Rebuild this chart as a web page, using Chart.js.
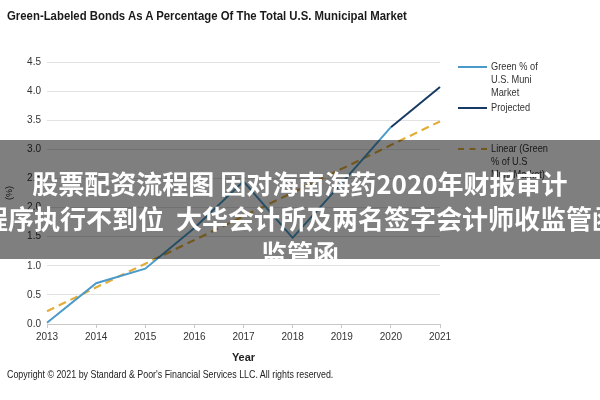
<!DOCTYPE html>
<html>
<head>
<meta charset="utf-8">
<script src="https://cdn.jsdelivr.net/npm/chart.js@4.4.1/dist/chart.umd.min.js"></script>
<style>
  html, body { margin: 0; padding: 0; background: #fff; }
  #wrap { position: relative; width: 600px; height: 400px; overflow: hidden; font-family: 'Liberation Sans', Arial, sans-serif; }
  #c { position: absolute; left: 0; top: 0; }
  #title { position: absolute; left: 7px; top: 8px; font-size: 13px; font-weight: bold; color: #1a1a1a; white-space: nowrap; transform: scaleX(0.875); transform-origin: left top; }
  #copy { position: absolute; left: 7px; top: 368px; font-size: 10.5px; color: #222; white-space: nowrap; transform: scaleX(0.845); transform-origin: left top; }
  .lg { position: absolute; left: 458px; width: 140px; font-size: 11px; line-height: 13px; color: #333; }
  .lg .sw { position: absolute; left: 0; top: 6px; width: 29px; height: 0; }
  .lg .tx { position: absolute; left: 33px; top: 0; width: 100px; transform: scaleX(0.84); transform-origin: left top; }
  #band { position: absolute; left: 0; top: 140px; width: 600px; height: 119px; background: rgba(0,0,0,0.5); overflow: hidden; }
  #band .t { position: absolute; left: -100px; width: 800px; text-align: center; color: #fff; font-family: 'Noto Sans CJK SC', sans-serif; font-weight: bold; font-size: 26px; line-height: 35px; white-space: pre; }
</style>
</head>
<body>
<div id="wrap">
  <canvas id="c" width="600" height="400"></canvas>
  <div id="title">Green-Labeled Bonds As A Percentage Of The Total U.S. Municipal Market</div>
  <div id="legend"></div>
  <div id="copy">Copyright © 2021 by Standard &amp; Poor's Financial Services LLC. All rights reserved.</div>
  <div id="band">
    <div class="t" style="top:25px">股票配资流程图 因对海南海药2020年财报审计</div>
    <div class="t" style="top:60px">程序执行不到位  大华会计所及两名签字会计师收监管函</div>
    <div class="t" style="top:95px">监管函</div>
  </div>
</div>
<script>
// ---- data ----
const years = ['2013','2014','2015','2016','2017','2018','2019','2020','2021'];
const greenShare = [0.02, 0.70, 0.95, 1.65, 2.45, 1.48, 2.42, 3.38, null];
const projected  = [null, null, null, null, null, null, null, 3.38, 4.07];
const linearTrend = [0.22, null, null, null, null, null, null, null, 3.48];
const yTicks = [0, 0.5, 1.0, 1.5, 2.0, 2.5, 3.0, 3.5, 4.0, 4.5];
const seriesNames = ['Green % of U.S. Muni Market', 'Projected', 'Linear (Green % of U.S. Muni Market)'];
const legendLines = [['Green % of','U.S. Muni','Market'], ['Projected'], ['Linear (Green','% of U.S','Muni Market)']];

const colors = ['#4a9bc9', '#173a64', '#e3ad3a'];
const font = "'Liberation Sans', Arial, sans-serif";

const datasets = [
  { label: seriesNames[0], data: greenShare, borderColor: colors[0], borderWidth: 2, pointRadius: 0, tension: 0, fill: false },
  { label: seriesNames[1], data: projected, borderColor: colors[1], borderWidth: 2, pointRadius: 0, tension: 0, fill: false },
  { label: seriesNames[2], data: linearTrend, borderColor: colors[2], borderWidth: 2.2, borderDash: [8, 5], pointRadius: 0, tension: 0, spanGaps: true, fill: false }
];

new Chart(document.getElementById('c'), {
  type: 'line',
  data: { labels: years, datasets },
  options: {
    responsive: false,
    animation: false,
    devicePixelRatio: 1,
    layout: { padding: { left: 0, right: 160, top: 62, bottom: 35 } },
    plugins: { legend: { display: false }, title: { display: false }, tooltip: { enabled: false } },
    scales: {
      x: {
        type: 'category',
        offset: false,
        grid: { display: true, drawOnChartArea: false, drawTicks: true, tickLength: 4, color: '#c8c8c8' },
        border: { display: true, color: '#c8c8c8' },
        ticks: { color: '#333', font: { family: font, size: 10 }, padding: 3, maxRotation: 0, autoSkip: false },
        title: { display: true, text: 'Year', color: '#222', font: { family: font, size: 11, weight: 'bold' }, padding: { top: 1, bottom: 0 } },
        afterFit: (s) => { s.height = 41; }
      },
      y: {
        min: 0, max: 4.5,
        afterBuildTicks: (s) => { s.ticks = yTicks.map(v => ({ value: v })); },
        grid: { color: '#e2e2e2', drawTicks: false },
        border: { display: false },
        ticks: { color: '#333', font: { family: font, size: 10 }, padding: 6, callback: (v) => Number(v).toFixed(1) },
        title: { display: true, text: '(%)', color: '#222', font: { family: font, size: 9 }, padding: { top: 4, bottom: 0 } },
        afterFit: (s) => { s.width = 47; }
      }
    }
  }
});

// HTML legend built from dataset definitions
const legendTops = [60, 101, 142];
const lg = document.getElementById('legend');
datasets.forEach((d, i) => {
  const e = document.createElement('div');
  e.className = 'lg';
  e.style.top = legendTops[i] + 'px';
  const sw = document.createElement('div');
  sw.className = 'sw';
  sw.style.borderTop = (i === 2 ? '2px dashed ' : '2px solid ') + d.borderColor;
  const tx = document.createElement('div');
  tx.className = 'tx';
  tx.innerHTML = legendLines[i].join('<br>');
  e.appendChild(sw); e.appendChild(tx);
  lg.appendChild(e);
});
</script>
</body>
</html>
